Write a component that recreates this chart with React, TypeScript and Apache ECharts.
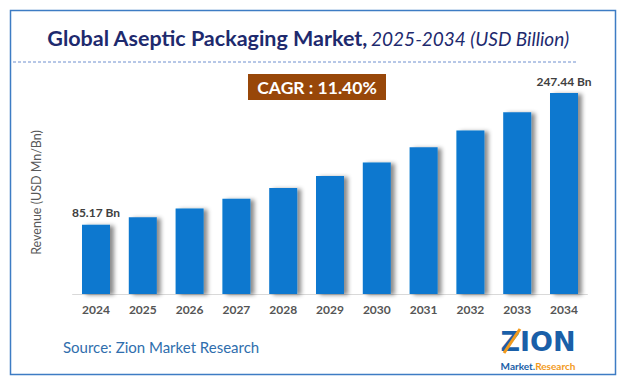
import React, { useEffect, useRef } from "react";
import * as echarts from "echarts";

const categories = ["2024", "2025", "2026", "2027", "2028", "2029", "2030", "2031", "2032", "2033", "2034"];
const values = [85.17, 94.5, 105.2, 117.3, 130.5, 145.4, 162.0, 180.6, 201.5, 223.8, 247.44];
const labelled = [0, 10];

export default function App() {
  const ref = useRef<HTMLDivElement>(null);
  useEffect(() => {
    document.body.style.margin = "0";
    const chart = echarts.init(ref.current!, null, { renderer: "svg" });
    const font = "Lato, 'Open Sans', sans-serif";
    chart.setOption({
      animation: false,
      backgroundColor: "#ffffff",
      grid: { left: 72.6, right: 38.6, top: 91, bottom: 92 },
      xAxis: {
        type: "category",
        data: categories,
        axisLine: { lineStyle: { color: "#d9d9d9", width: 1 } },
        axisTick: { show: false },
        axisLabel: { color: "#555555", fontWeight: "bold", fontSize: 12, fontFamily: font, margin: 9 },
      },
      yAxis: {
        type: "value",
        min: 0,
        max: 250,
        show: true,
        axisLine: { show: false },
        axisTick: { show: false },
        axisLabel: { show: false },
        splitLine: { show: false },
        name: "Revenue (USD Mn/Bn)",
        nameLocation: "middle",
        nameRotate: 90,
        nameGap: 30,
        nameTextStyle: { color: "#595959", fontSize: 12.5, fontFamily: font },
      },
      series: [
        {
          type: "bar",
          data: values.map((v, i) => ({
            value: v,
            label: {
              show: labelled.includes(i),
              position: "top",
              formatter: (p: any) => p.value.toFixed(2) + " Bn",
              color: "#404040",
              fontWeight: "bold",
              fontSize: 12,
              fontFamily: font,
              distance: 6,
            },
          })),
          barWidth: 28,
          itemStyle: {
            color: "#0a78cf",
            shadowColor: "rgba(0,0,0,0.45)",
            shadowBlur: 4,
            shadowOffsetX: 4,
            shadowOffsetY: 1,
          },
        },
      ],
      graphic: [
        {
          type: "rect",
          shape: { x: 10.5, y: 10.5, width: 605, height: 364 },
          style: { fill: "none", stroke: "#3d7cc4", lineWidth: 1.5 },
        },
        {
          type: "text",
          x: 308,
          y: 38,
          style: {
            text: "{b|Global Aseptic Packaging Market,} {i|2025-2034 (USD Billion)}",
            align: "center",
            verticalAlign: "middle",
            rich: {
              b: { fontSize: 21.5, fontWeight: "bold", fill: "#1e2a6e", fontFamily: font },
              i: { fontSize: 19, fontStyle: "italic", fill: "#1e2a6e", fontFamily: font },
            },
          },
        },
        {
          type: "line",
          shape: { x1: 13, y1: 62, x2: 578, y2: 62 },
          style: { stroke: "#6f8fcf", lineWidth: 1, lineDash: [3, 2] },
        },
        {
          type: "rect",
          shape: { x: 248, y: 74, width: 138, height: 26 },
          style: { fill: "#984709" },
        },
        {
          type: "text",
          x: 317,
          y: 87,
          style: {
            text: "CAGR : 11.40%",
            align: "center",
            verticalAlign: "middle",
            fill: "#ffffff",
            fontSize: 17.5,
            fontWeight: "bold",
            fontFamily: font,
          },
        },
        {
          type: "text",
          x: 63,
          y: 347,
          style: {
            text: "Source: Zion Market Research",
            verticalAlign: "middle",
            fill: "#2f6ead",
            fontSize: 15,
            fontFamily: font,
          },
        },
        {
          type: "text",
          x: 538,
          y: 341,
          style: {
            text: "ZION",
            align: "center",
            verticalAlign: "middle",
            fill: "#1a5fa8",
            fontSize: 27,
            fontWeight: "bold",
            fontFamily: "'DejaVu Sans', sans-serif",
          },
        },
        {
          type: "line",
          shape: { x1: 504, y1: 353, x2: 520, y2: 329 },
          style: { stroke: "#f29a1c", lineWidth: 3 },
        },
        {
          type: "text",
          x: 538,
          y: 366,
          style: {
            text: "{m|Market.}{r|Research}",
            align: "center",
            verticalAlign: "middle",
            rich: {
              m: { fontSize: 10, fontWeight: "bold", fill: "#1a5fa8", fontFamily: font },
              r: { fontSize: 10, fontWeight: "bold", fill: "#f29a1c", fontFamily: font },
            },
          },
        },
      ],
    });
    return () => chart.dispose();
  }, []);
  return <div ref={ref} style={{ width: 626, height: 386 }} />;
}
